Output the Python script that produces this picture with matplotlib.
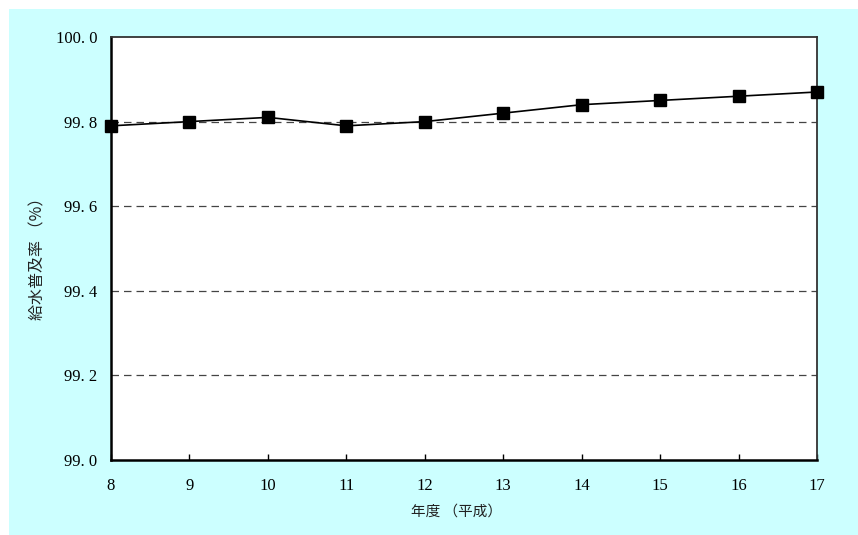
import matplotlib
matplotlib.use("Agg")
import matplotlib.pyplot as plt
from matplotlib.patches import Rectangle

# 年度（平成）と給水普及率
years = [8, 9, 10, 11, 12, 13, 14, 15, 16, 17]
rates = [99.79, 99.80, 99.81, 99.79, 99.80, 99.82, 99.84, 99.85, 99.86, 99.87]
y_ticks = [99.0, 99.2, 99.4, 99.6, 99.8, 100.0]
y_tick_labels = ["99. 0", "99. 2", "99. 4", "99. 6", "99. 8", "100. 0"]
grid_levels = [99.2, 99.4, 99.6, 99.8]

xlabel = "年度 （平成）"
ylabel = "給水普及率 （%）"

W, H = 858, 535
fig = plt.figure(figsize=(W / 100, H / 100), dpi=100, facecolor="white")
fig.add_artist(
    Rectangle((9 / W, 0), 1 - 9 / W, 1 - 9 / H, transform=fig.transFigure,
              facecolor="#ccffff", edgecolor="none", zorder=-5)
)

ax = fig.add_axes([111 / W, 75 / H, 706 / W, 423 / H])
ax.set_zorder(2)
ax.set_facecolor("white")

for lv in grid_levels:
    ax.axhline(lv, color="#444444", lw=0.9, ls=(0, (6, 4)), zorder=1)

ax.plot(years, rates, color="black", lw=1.2, marker="s", markersize=8.5,
        zorder=3, clip_on=False)

ax.set_xlim(years[0], years[-1])
ax.set_ylim(y_ticks[0], y_ticks[-1])
ax.set_xticks(years)
ax.set_xticklabels([str(y) for y in years], family="Liberation Serif", fontsize=12)
ax.set_yticks(y_ticks)
ax.set_yticklabels(y_tick_labels, family="Liberation Serif", fontsize=12)
ax.tick_params(axis="x", direction="in", length=4, width=1, pad=13)
ax.tick_params(axis="y", direction="in", length=0, pad=10)

for side in ["left", "bottom"]:
    ax.spines[side].set_linewidth(1.8)
    ax.spines[side].set_color("black")
for side in ["top", "right"]:
    ax.spines[side].set_linewidth(1.3)
    ax.spines[side].set_color("#333333")

cjk = ["Noto Sans CJK JP", "DejaVu Sans"]
ax.set_xlabel(xlabel, family=cjk, fontsize=10.5, color="#222222")
ax.set_ylabel(ylabel, family=cjk, fontsize=11.5, color="#222222")
ax.xaxis.set_label_coords(0.49, -0.106)
ax.yaxis.set_label_coords(-0.092, 0.485)

fig.savefig("out.png", dpi=100, facecolor="white")
